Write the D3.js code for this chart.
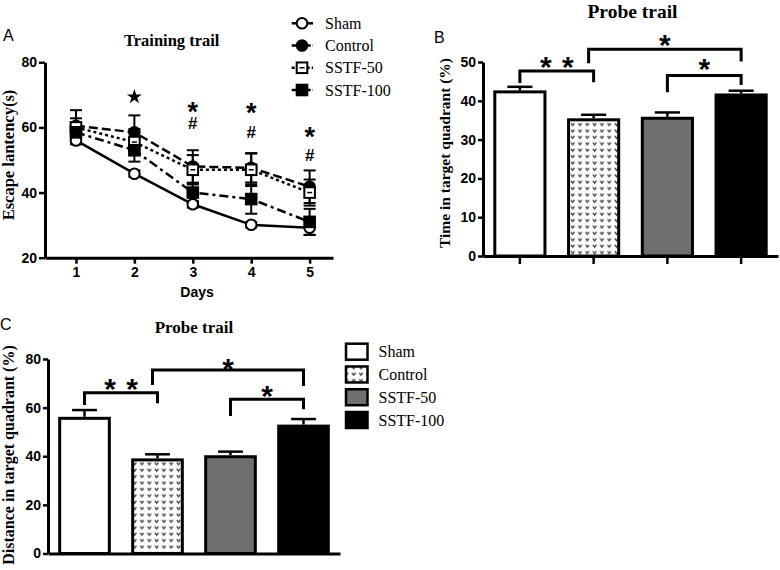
<!DOCTYPE html>
<html><head><meta charset="utf-8">
<script src="https://cdn.jsdelivr.net/npm/d3@7"></script>
<style>body{margin:0;background:#fff} svg{display:block}</style>
</head><body>
<svg id="chart" width="780" height="570"></svg>
<script>
// ---------- data ----------
const groups = ["Sham", "Control", "SSTF-50", "SSTF-100"];
const days = [1, 2, 3, 4, 5];
const shamMean = [56.0, 45.8, 36.4, 30.1, 29.2];
const shamSem = [1.2, 1.0, 1.0, 0.8, 2.2];
const controlMean = [60.5, 58.5, 48.0, 47.6, 41.8];
const controlSem = [4.8, 5.2, 5.0, 4.5, 5.0];
const sstf50Mean = [60.0, 55.5, 47.0, 47.0, 40.0];
const sstf50Sem = [2.8, 4.0, 4.5, 5.0, 4.0];
const sstf100Mean = [58.5, 53.0, 40.0, 38.0, 31.0];
const sstf100Sem = [3.0, 3.5, 3.0, 4.5, 4.0];
const latencyTicks = [20, 40, 60, 80];

const probeTimeMean = [42.3, 35.1, 35.5, 41.5];
const probeTimeSem = [1.3, 1.3, 1.5, 1.1];
const timeTicks = [0, 10, 20, 30, 40, 50];

const probeDistMean = [55.6, 38.5, 39.8, 52.4];
const probeDistSem = [3.4, 2.3, 2.1, 2.9];
const distTicks = [0, 20, 40, 60, 80];

// significance brackets: from group, to group, bar level, leg ends, label (data units)
const timeBrackets = [
  {from: 0, to: 1, level: 47.7, fromEnd: 44.6, toEnd: 44.8, label: "**", labelAt: 50.6},
  {from: 1, to: 3, level: 53.3, fromEnd: 49.7, toEnd: 50.1, label: "*", labelAt: 56.2},
  {from: 2, to: 3, level: 46.5, fromEnd: 42.2, toEnd: 44.1, label: "*", labelAt: 50.1}
];
const distBrackets = [
  {from: 0, to: 1, level: 66.1, fromEnd: 61.1, toEnd: 61.8, label: "**", labelAt: 70.4},
  {from: 1, to: 3, level: 75.5, fromEnd: 69.3, toEnd: 68.9, label: "*", labelAt: 78.9},
  {from: 2, to: 3, level: 63.4, fromEnd: 56.6, toEnd: 59.3, label: "*", labelAt: 67.6}
];
// day-wise significance marks (y in seconds)
const dayMarks = [
  {day: 2, sym: "star", y: 69.4},
  {day: 3, sym: "*", y: 66.6}, {day: 3, sym: "#", y: 61.4},
  {day: 4, sym: "*", y: 66.3}, {day: 4, sym: "#", y: 58.6},
  {day: 5, sym: "*", y: 59.0}, {day: 5, sym: "#", y: 51.6}
];

// ---------- setup ----------
const svg = d3.select("#chart");
const SERIF = "'Liberation Serif','Times New Roman',serif";
const SANS = "'Liberation Sans',Arial,sans-serif";

const defs = svg.append("defs");
const pat = defs.append("pattern").attr("id", "dots").attr("patternUnits", "userSpaceOnUse")
  .attr("width", 7.3).attr("height", 6.4);
pat.append("rect").attr("width", 7.3).attr("height", 6.4).attr("fill", "#fff");
pat.append("path").attr("d", "M1.6,1.6 L3.3,4.0 L5.0,1.6").attr("fill", "none")
  .attr("stroke", "#3a3a3a").attr("stroke-width", 1.2);

const barFill = ["#ffffff", "url(#dots)", "#6f6f6f", "#000000"];

function styleAxis(g, w) {
  g.select(".domain").attr("stroke", "#000").attr("stroke-width", w);
  g.selectAll(".tick line").attr("stroke", "#000").attr("stroke-width", w - 0.5);
  g.selectAll(".tick text").attr("fill", "#000").attr("font-family", SANS)
    .attr("font-weight", "bold").attr("font-size", 14);
}

// ---------- Panel A ----------
const xA = d3.scaleLinear().domain([0.47, 5.4]).range([45, 333]);
const yA = d3.scaleLinear().domain([20, 80]).range([257.7, 62.3]);

const seriesA = [
  {name: groups[0], mean: shamMean, sem: shamSem, dash: null, marker: "circle", fill: "#fff"},
  {name: groups[1], mean: controlMean, sem: controlSem, dash: "9,4", marker: "circle", fill: "#000"},
  {name: groups[2], mean: sstf50Mean, sem: sstf50Sem, dash: "3,3", marker: "square", fill: "#fff"},
  {name: groups[3], mean: sstf100Mean, sem: sstf100Sem, dash: "9,4,3,4", marker: "square", fill: "#000"}
];

const gA = svg.append("g");
const line = d3.line().x((d, i) => xA(days[i])).y(d => yA(d));

seriesA.forEach(s => {
  const eb = gA.append("g");
  days.forEach((d, i) => {
    const x = xA(d), y1 = yA(s.mean[i] + s.sem[i]), y0 = yA(s.mean[i] - s.sem[i]);
    eb.append("line").attr("x1", x).attr("x2", x).attr("y1", y0).attr("y2", y1)
      .attr("stroke", "#000").attr("stroke-width", 2);
    [y0, y1].forEach(yy => eb.append("line").attr("x1", x - 6).attr("x2", x + 6)
      .attr("y1", yy).attr("y2", yy).attr("stroke", "#000").attr("stroke-width", 2));
  });
});
seriesA.forEach(s => {
  gA.append("path").datum(s.mean).attr("d", line).attr("fill", "none")
    .attr("stroke", "#000").attr("stroke-width", 2.5)
    .attr("stroke-dasharray", s.dash);
});
function drawMarker(g, type, fill, x, y) {
  if (type === "circle") {
    g.append("circle").attr("cx", x).attr("cy", y).attr("r", 5.3)
      .attr("fill", fill).attr("stroke", "#000").attr("stroke-width", 2);
  } else {
    g.append("rect").attr("x", x - 5.3).attr("y", y - 5.3).attr("width", 10.6).attr("height", 10.6)
      .attr("fill", fill).attr("stroke", "#000").attr("stroke-width", 2);
    if (fill === "#fff") {
      g.append("line").attr("x1", x - 2.5).attr("x2", x + 2.5).attr("y1", y).attr("y2", y)
        .attr("stroke", "#000").attr("stroke-width", 1.5);
    }
  }
}
seriesA.forEach(s => {
  days.forEach((d, i) => drawMarker(gA, s.marker, s.fill, xA(d), yA(s.mean[i])));
});

const axA_y = gA.append("g").attr("transform", `translate(${xA(0.47)},0)`)
  .call(d3.axisLeft(yA).tickValues(latencyTicks).tickSize(6).tickSizeOuter(0).tickPadding(2));
styleAxis(axA_y, 3);
const axA_x = gA.append("g").attr("transform", `translate(0,${yA(20)})`)
  .call(d3.axisBottom(xA).tickValues(days).tickFormat(d3.format("d")).tickSize(6).tickSizeOuter(0).tickPadding(3));
styleAxis(axA_x, 3);

dayMarks.forEach(m => {
  const x = xA(m.day), y = yA(m.y);
  if (m.sym === "star") {
    gA.append("path").attr("d", d3.symbol(d3.symbolStar, 70)())
      .attr("transform", `translate(${x},${y})`).attr("fill", "#000");
  } else if (m.sym === "*") {
    gA.append("text").attr("x", x).attr("y", y + 15).attr("text-anchor", "middle")
      .attr("font-family", SANS).attr("font-weight", "bold").attr("font-size", 27).text("*");
  } else {
    gA.append("text").attr("x", x).attr("y", y + 6).attr("text-anchor", "middle")
      .attr("font-family", SANS).attr("font-weight", "bold").attr("font-size", 17).text("#");
  }
});

gA.append("text").attr("x", 171.7).attr("y", 45.5).attr("text-anchor", "middle")
  .attr("font-family", SERIF).attr("font-weight", "bold").attr("font-size", 16.5).text("Training trail");
gA.append("text").attr("x", 197).attr("y", 296.5).attr("text-anchor", "middle")
  .attr("font-family", SANS).attr("font-weight", "bold").attr("font-size", 14).text("Days");
gA.append("text").attr("transform", "translate(14,155) rotate(-90)").attr("text-anchor", "middle")
  .attr("font-family", SERIF).attr("font-weight", "bold").attr("font-size", 16.5).text("Escape lantency(s)");
gA.append("text").attr("x", 3).attr("y", 41).attr("font-family", SANS).attr("font-size", 16).text("A");

// legend A
const legA = svg.append("g");
const legAy = d3.scalePoint().domain(groups).range([23.3, 90]);
seriesA.forEach(s => {
  const y = legAy(s.name);
  legA.append("line").attr("x1", 291.7).attr("x2", 313).attr("y1", y).attr("y2", y)
    .attr("stroke", "#000").attr("stroke-width", 2.5)
    .attr("stroke-dasharray", s.dash ? (s.dash === "3,3" ? "3,2" : "5,2") : null);
  drawMarker(legA, s.marker, s.fill, 302, y);
  legA.append("text").attr("x", 325).attr("y", y + 5.5).attr("font-family", SERIF)
    .attr("font-size", 16).text(s.name);
});

// ---------- bar panels ----------
function barPanel(opts) {
  const g = svg.append("g");
  const x = d3.scaleBand().domain(groups).range(opts.xr).paddingInner(0.32).paddingOuter(0.16);
  const y = d3.scaleLinear().domain([0, opts.max]).range(opts.yr);
  const bw = x.bandwidth();
  g.selectAll("rect.bar").data(opts.mean).join("rect").attr("class", "bar")
    .attr("x", (d, i) => x(groups[i])).attr("y", d => y(d))
    .attr("width", bw).attr("height", d => y(0) - y(d))
    .attr("fill", (d, i) => barFill[i]).attr("stroke", "#000").attr("stroke-width", 3);
  opts.mean.forEach((m, i) => {
    const cx = x(groups[i]) + bw / 2;
    g.append("line").attr("x1", cx).attr("x2", cx).attr("y1", y(m) - 1.5).attr("y2", y(m + opts.sem[i]))
      .attr("stroke", "#000").attr("stroke-width", 2.5);
    g.append("line").attr("x1", cx - bw / 4).attr("x2", cx + bw / 4)
      .attr("y1", y(m + opts.sem[i])).attr("y2", y(m + opts.sem[i]))
      .attr("stroke", "#000").attr("stroke-width", 2.5);
  });
  const ay = g.append("g").attr("transform", `translate(${opts.xr[0]},0)`)
    .call(d3.axisLeft(y).tickValues(opts.ticks).tickSize(5).tickSizeOuter(0).tickPadding(2));
  styleAxis(ay, 3);
  const ax = g.append("g").attr("transform", `translate(0,${y(0)})`)
    .call(d3.axisBottom(x).tickSize(opts.xTick).tickSizeOuter(0).tickFormat(""));
  styleAxis(ax, 3);
  opts.brackets.forEach(b => {
    const x1 = x(groups[b.from]) + bw / 2 - (b.to - b.from > 1 && b.from === 1 ? 5 : 0);
    const x2 = x(groups[b.to]) + bw / 2;
    g.append("path").attr("d", `M${x1},${y(b.fromEnd)}V${y(b.level)}H${x2}V${y(b.toEnd)}`)
      .attr("fill", "none").attr("stroke", "#000").attr("stroke-width", 3);
    const lx = (x1 + x2) / 2;
    const stars = b.label.length;
    for (let s = 0; s < stars; s++) {
      const off = stars === 1 ? 0 : (s === 0 ? -11 : 11);
      g.append("text").attr("x", lx + off).attr("y", y(b.labelAt) + 17).attr("text-anchor", "middle")
        .attr("font-family", SANS).attr("font-weight", "bold").attr("font-size", 30).text("*");
    }
  });
  return {g, x, y};
}

barPanel({xr: [483, 778], yr: [256, 62], max: 50, ticks: timeTicks, xTick: 8,
  mean: probeTimeMean, sem: probeTimeSem, brackets: timeBrackets});
svg.append("text").attr("x", 632.5).attr("y", 18).attr("text-anchor", "middle")
  .attr("font-family", SERIF).attr("font-weight", "bold").attr("font-size", 19.5).text("Probe trail");
svg.append("text").attr("transform", "translate(450,153) rotate(-90)").attr("text-anchor", "middle")
  .attr("font-family", SERIF).attr("font-weight", "bold").attr("font-size", 15.5).text("Time in target quadrant (%)");
svg.append("text").attr("x", 434).attr("y", 43).attr("font-family", SANS).attr("font-size", 16).text("B");

barPanel({xr: [48, 340], yr: [553.5, 359], max: 80, ticks: distTicks, xTick: 0,
  mean: probeDistMean, sem: probeDistSem, brackets: distBrackets});
svg.append("text").attr("x", 194).attr("y", 333).attr("text-anchor", "middle")
  .attr("font-family", SERIF).attr("font-weight", "bold").attr("font-size", 17).text("Probe trail");
svg.append("text").attr("transform", "translate(14,455) rotate(-90)").attr("text-anchor", "middle")
  .attr("font-family", SERIF).attr("font-weight", "bold").attr("font-size", 16).text("Distance in target quadrant (%)");
svg.append("text").attr("x", 0).attr("y", 330).attr("font-family", SANS).attr("font-size", 16).text("C");

// legend C
const legC = svg.append("g");
const legCy = d3.scalePoint().domain(groups).range([351.7, 420]);
groups.forEach((gname, i) => {
  const y = legCy(gname);
  legC.append("rect").attr("x", 346).attr("y", y - 8).attr("width", 21.5).attr("height", 16)
    .attr("fill", barFill[i]).attr("stroke", "#000").attr("stroke-width", 2.5);
  legC.append("text").attr("x", 378.5).attr("y", y + 5.5).attr("font-family", SERIF)
    .attr("font-size", 16).text(gname);
});
</script>
</body></html>
